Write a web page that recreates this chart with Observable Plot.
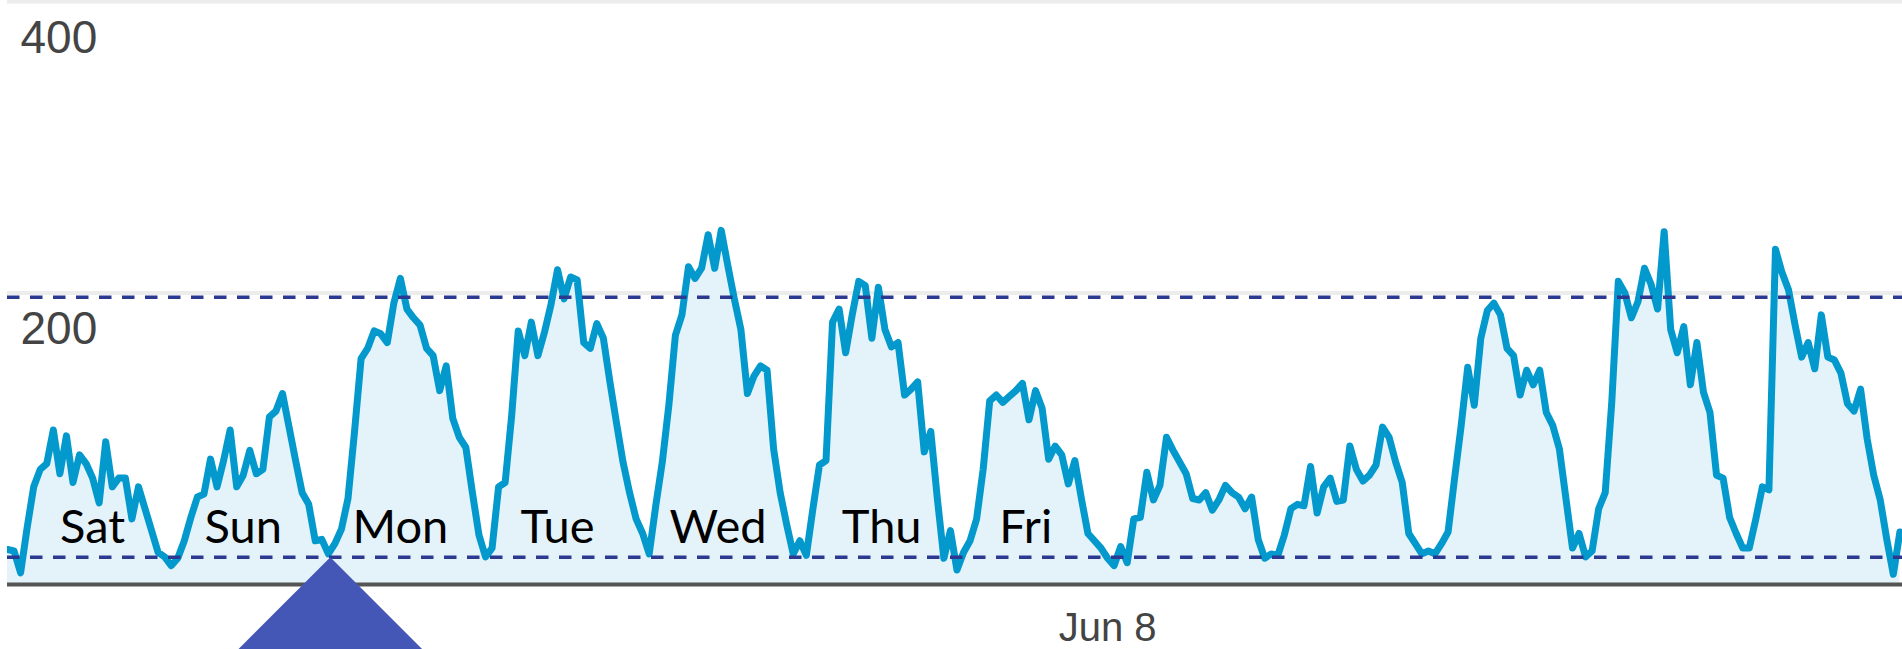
<!DOCTYPE html>
<html>
<head>
<meta charset="utf-8">
<script src="https://cdn.jsdelivr.net/npm/d3@7"></script>
<script src="https://cdn.jsdelivr.net/npm/@observablehq/plot@0.6"></script>
<style>
  html, body { margin: 0; padding: 0; background: #fff; overflow: hidden; }
  #chart svg { display: block; }
</style>
</head>
<body>
<div id="chart"></div>
<script>
// Hourly values, one array per day (starting Sat Jun 1, 2013, 00:00)
const jun01 = [24, 23, 8, 39, 67, 79, 83, 106, 76, 102, 70, 89, 83, 73, 56, 98, 67, 73, 73, 45, 67, 52, 37, 22];
const jun02 = [19, 13, 18, 30, 46, 60, 62, 86, 67, 85, 106, 67, 75, 92, 76, 79, 115, 119, 131, 108, 85, 63, 55, 30];
const jun03 = [31, 21, 28, 38, 59, 105, 155, 162, 174, 172, 166, 193, 210, 189, 183, 178, 162, 157, 133, 150, 114, 101, 94, 63];
const jun04 = [34, 19, 25, 67, 70, 116, 174, 157, 180, 157, 173, 192, 216, 196, 211, 209, 166, 162, 179, 169, 139, 111, 84, 63];
const jun05 = [45, 35, 21, 54, 84, 123, 171, 185, 218, 210, 217, 240, 217, 243, 219, 196, 175, 131, 143, 150, 147, 93, 63, 41];
const jun06 = [21, 30, 20, 52, 82, 85, 180, 189, 159, 185, 208, 205, 169, 204, 175, 163, 166, 130, 134, 139, 91, 105, 59, 18];
const jun07 = [37, 10, 22, 30, 45, 79, 126, 130, 125, 129, 133, 138, 113, 133, 121, 86, 95, 89, 69, 85, 59, 35, 30, 25];
const jun08 = [18, 13, 26, 15, 45, 46, 77, 58, 68, 101, 92, 84, 76, 59, 58, 63, 51, 58, 68, 63, 60, 52, 60, 31];
const jun09 = [18, 21, 20, 34, 52, 55, 54, 81, 49, 67, 73, 57, 58, 95, 79, 71, 75, 82, 108, 101, 84, 70, 35, 28];
const jun10 = [21, 23, 21, 28, 36, 73, 109, 149, 123, 169, 188, 193, 185, 162, 157, 130, 147, 137, 147, 118, 109, 93, 59, 25];
const jun11 = [35, 19, 23, 52, 63, 125, 208, 200, 183, 194, 217, 206, 189, 242, 175, 159, 177, 137, 166, 132, 118, 75, 73, 46];
const jun12 = [35, 25, 25, 45, 67, 65, 230, 214, 202, 178, 156, 166, 148, 185, 156, 154, 145, 124, 119, 134, 100, 75, 58, 31];
const jun13 = [7, 36];

// Annotation labels and their positions (hours from Jun 1 00:00)
const dayLabels = ["Sat", "Sun", "Mon", "Tue", "Wed", "Thu", "Fri"];
const dayLabelHours = [13, 36, 60, 84, 108.5, 133.5, 155.5];
const dayLabelValue = 28.8;

// Axis ticks
const yTicks = [200, 400];
const xTickDates = [new Date(Date.UTC(2013, 5, 8))];

// Reference bands (dashed lines) and marker
const bandValues = [197, 18.7];
const markerHour = 49.3;
const visibleHours = 289.4;

const start = Date.UTC(2013, 5, 1);
const HOUR = 3600e3;
const series = [jun01, jun02, jun03, jun04, jun05, jun06, jun07, jun08, jun09, jun10, jun11, jun12, jun13].flat();
const data = series.map((v, i) => ({t: new Date(start + i * HOUR), v}));
const labels = dayLabels.map((name, i) => ({name, t: new Date(start + dayLabelHours[i] * HOUR), v: dayLabelValue}));
const marker = [{t: new Date(start + markerHour * HOUR), v: bandValues[1]}];

// upward-pointing right-angle triangle whose apex sits on the data point
const apexTriangle = {
  draw(context, size) {
    const r = Math.sqrt(size / Math.PI);
    context.moveTo(0, 0);
    context.lineTo(r, r);
    context.lineTo(-r, r);
    context.closePath();
  }
};

const chart = Plot.plot({
  width: 1902,
  height: 649,
  marginTop: 1,
  marginBottom: 65,
  marginLeft: 7,
  marginRight: 0,
  style: {background: "#fff", overflow: "hidden"},
  x: {type: "utc", domain: [new Date(start), new Date(start + visibleHours * HOUR)]},
  y: {domain: [0, 400]},
  marks: [
    Plot.ruleY(yTicks, {stroke: "#ececec", strokeWidth: 4}),
    Plot.areaY(data, {x: "t", y: "v", fill: "#e4f3fa", clip: true}),
    Plot.lineY(data, {x: "t", y: "v", stroke: "#0399cc", strokeWidth: 7, clip: true}),
    Plot.ruleY(bandValues, {stroke: "#2b3991", strokeWidth: 3.5, strokeDasharray: "12.5,10.5"}),
    Plot.ruleY([0], {stroke: "#555", strokeWidth: 4}),
    Plot.axisY({
      ticks: yTicks, anchor: "left", tickSize: 0, tickPadding: 0, textAnchor: "start",
      dx: 13, dy: 18.5, lineAnchor: "top", fontSize: 46, fontFamily: "Liberation Sans, Arial, sans-serif",
      color: "#444", label: null
    }),
    Plot.axisX({
      ticks: xTickDates, tickFormat: d3.utcFormat("%b %-d"), anchor: "bottom", tickSize: 0,
      tickPadding: 28, fontSize: 40, fontFamily: "Liberation Sans, Arial, sans-serif",
      color: "#444", label: null
    }),
    Plot.text(labels, {
      x: "t", y: "v", text: "name", fill: "#000", fontSize: 47,
      fontFamily: "Lato, 'Open Sans', sans-serif", lineAnchor: "bottom"
    }),
    Plot.dot(marker, {x: "t", y: "v", r: 112, symbol: apexTriangle, fill: "#4456b6", stroke: "none"})
  ]
});

document.getElementById("chart").appendChild(chart);
</script>
</body>
</html>
